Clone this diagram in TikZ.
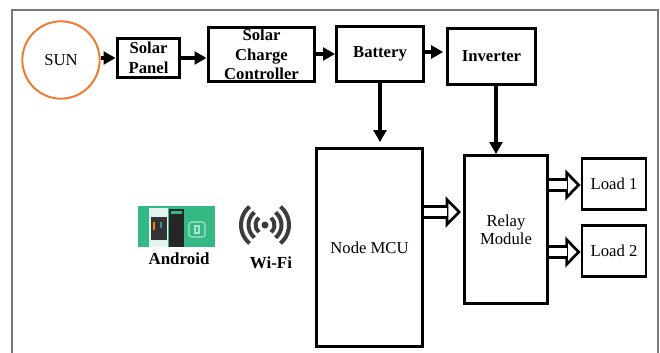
\documentclass[tikz,border=0pt]{standalone}
\usepackage{fontspec}
\setmainfont{Liberation Serif}
\usetikzlibrary{arrows.meta,calc}
\definecolor{sunorange}{RGB}{237,125,49}
\definecolor{appgreen}{RGB}{52,184,132}
\definecolor{framegray}{RGB}{120,120,120}
\definecolor{wifigray}{RGB}{60,60,60}

\begin{document}
\begin{tikzpicture}[x=0.75pt,y=-0.75pt]
  \tikzstyle{thickbox} = [rectangle, draw, line width=2.4pt, align=center, font=\fontsize{12.5}{14.8}\selectfont\bfseries, inner sep=0pt]
  \tikzstyle{thinbox} = [rectangle, draw, line width=2.1pt, align=center, font=\fontsize{12.5}{13.6}\selectfont, inner sep=0pt]
  \tikzstyle{line} = [draw, line width=2.7pt, -{Triangle[length=9pt,width=9.5pt]}]
  \tikzstyle{hollowhead} = [draw, line width=2pt, -{Triangle[open,fill=white,length=11.5pt,width=23pt]}]
  \tikzstyle{hollow} = [draw, line width=2pt, double, double distance=6.5pt, shorten >=10.5pt]
  \tikzstyle{wifiarc} = [draw=wifigray, line width=3pt]
  \tikzstyle{caption} = [font=\fontsize{12.7}{15}\selectfont\bfseries, inner sep=0pt]

  \useasboundingbox (0,0) rectangle (660,353);
  \fill[white] (0,0) rectangle (660,353);
  \draw[framegray, line width=1.1pt] (12,353) -- (12,10) -- (658,10) -- (658,353);

  % Place nodes
  \node [circle, draw=sunorange, line width=1.5pt, minimum size=58pt, inner sep=0pt, font=\fontsize{12.5}{14}\selectfont] (sun) at (61,60) {SUN};
  \node [thickbox, minimum width=47pt, minimum height=29pt] (panel) at (148.5,58) {Solar\\Panel};
  \node [thickbox, minimum width=80pt, minimum height=41pt] (charge) at (261.5,54.5) {Solar\\Charge\\Controller};
  \node [thickbox, minimum width=65pt, minimum height=41pt] (battery) at (380,54) {Battery};
  \node [thickbox, minimum width=66pt, minimum height=42pt] (inverter) at (491.5,56.5) {Inverter};
  \node [thinbox, minimum width=79pt, minimum height=149pt] (mcu) at (369.5,247.5) {Node MCU};
  \node [thinbox, minimum width=62pt, minimum height=111pt] (relay) at (506,229.5) {Relay\\Module};
  \node [thinbox, minimum width=48pt, minimum height=38pt] (loada) at (614,184) {Load 1};
  \node [thinbox, minimum width=48pt, minimum height=38pt] (loadb) at (614,251) {Load 2};

  % App picture
  \node [rectangle, fill=appgreen, minimum width=58pt, minimum height=31pt, inner sep=0pt] (app) at (176.5,226.5) {};
  \fill[white!85!appgreen] (149,208) rectangle (168,247);
  \fill[black!80] (151,217) rectangle (167,240);
  \fill[black!85] (169,209) rectangle (184,247);
  \fill[appgreen] (171,211) rectangle (182,214);
  \fill[orange] (153,222) rectangle (155,230);
  \fill[cyan!60!black] (160,222) rectangle (162,228);
  \draw[white!60!appgreen, rounded corners=2pt, line width=0.8pt] (189,222) rectangle (205,237);
  \draw[white!60!appgreen, line width=0.8pt] (195,226) rectangle (199,233);
  \node [caption] (android) at (179,259) {Android};

  % Wifi symbol
  \coordinate (wifi) at (265,225);
  \fill[wifigray] (wifi) circle (3.5);
  \foreach \r in {9.5,16.5,24}
    \draw[wifiarc] ($(wifi)+(-50:\r)$) arc (-50:50:\r)
      ($(wifi)+(130:\r)$) arc (130:230:\r);
  \node [caption] (wifilabel) at (271,263) {Wi-Fi};

  % Draw edges
  \path [line] (sun.east |- panel.west) -- (panel.west);
  \path [line] (panel.east) -- (charge.west |- panel.east);
  \path [line] (charge.east |- battery.west) -- (battery.west);
  \path [line, shorten >=2pt] ($(battery.east)+(0,-2)$) -- ($(inverter.west |- battery.east)+(0,-2)$);
  \path [line, shorten >=3.5pt] (battery.south) -- (mcu.north -| battery.south);
  \path [line] ($(inverter.south)+(4.5,0)$) -- ($(relay.north -| inverter.south)+(4.5,0)$);

  \path [hollowhead] (mcu.east |- 0,212) -- (461,212);
  \path [hollow] (mcu.east |- 0,212) -- (461,212);
  \path [hollowhead] (relay.east |- 0,185) -- (loada.west |- 0,185);
  \path [hollow] (relay.east |- 0,185) -- (loada.west |- 0,185);
  \path [hollowhead] (relay.east |- 0,252) -- (loadb.west |- 0,252);
  \path [hollow] (relay.east |- 0,252) -- (loadb.west |- 0,252);
\end{tikzpicture}
\end{document}
